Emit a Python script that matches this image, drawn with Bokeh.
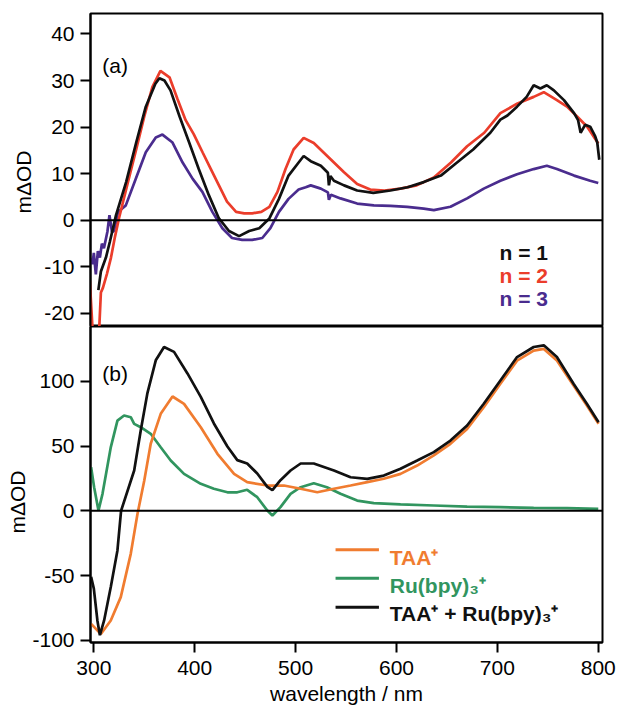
from bokeh.plotting import figure
from bokeh.layouts import column
from bokeh.models import Range1d, Label, Span, FixedTicker, Title
from bokeh.embed import file_html
from bokeh.resources import INLINE

FONT = "Liberation Sans"
FS = "21px"

# ---------------- panel (a) data: mΔOD vs wavelength (nm) ----------------
wl_n1 = [304.5, 307, 312, 316, 322, 332, 342, 351.5, 361, 365, 370, 376, 385, 394.5,
         404, 414, 424, 434, 444, 454, 464, 474, 483.5, 493, 503, 508, 515, 525, 532,
         533, 534.5, 538, 548, 561, 577, 594, 611, 627, 644, 660, 676, 693, 703, 710,
         719.5, 729, 736, 742.6, 749, 756, 766, 776, 780, 782.5, 787, 792, 797, 799, 801]
od_n1 = [-15, -11, -8, -4.5, 1.1, 8.2, 16.7, 24.4, 29.3, 30.5, 30, 27.9, 22.3, 16.7,
         11, 5.4, 0.4, -2.3, -3.4, -2.3, -1.7, 0.4, 4.6, 9.6, 12.4, 13.8, 12.7, 11.7, 10.2,
         7.5, 9.5, 8.5, 7.5, 6.4, 5.9, 6.4, 7.1, 8.2, 9.6, 12.4, 15.2, 18.8, 21.6, 22.5,
         24.4, 26.5, 29, 28.3, 29, 27.9, 25.8, 23, 21.5, 18.8, 20.5, 20.1, 18, 16.7, 13]

wl_n2 = [296, 298.5, 302, 305.5, 307, 309, 313, 317, 321, 325, 333, 342, 350, 358, 366,
         375, 383, 391, 399, 408, 416, 424, 432, 441, 449, 457, 466, 474, 482, 490, 498,
         508, 518, 528, 538, 548, 561, 574, 588, 604, 620, 637, 654, 670, 687, 703, 720,
         736, 746, 759, 769, 779, 789, 800]
od_n2 = [-13, -22.5, -30, -22.5, -15.5, -14.5, -11.5, -8, -3.5, 0.5, 7.5, 15.2, 22.3, 28.6, 32.1,
         30.7, 26, 21.5, 18.5, 14.5, 11, 7.5, 4, 1.8, 1.5, 1.5, 1.8, 2.9, 6.1, 11, 15.2,
         17.7, 16.6, 14.5, 12.4, 10.3, 7.8, 6.6, 6.4, 6.8, 7.5, 9.2, 12.4, 15.9, 18.8, 23, 25.1,
         26.5, 27.5, 25.8, 24.4, 22.3, 20.1, 16.5]

wl_n3 = [296, 298.7, 300, 302, 304, 306, 308, 310, 313.5, 315.5, 318, 320, 324, 331.7,
         341.6, 351.5, 361.4, 368, 378, 388, 398, 407.6, 417.5, 427.4, 437, 447, 457, 467,
         475, 483.5, 493, 503, 510, 515, 525, 532, 533, 535, 544.5, 561, 577.5, 594,
         610.6, 627, 637, 653.5, 670, 686.5, 703, 719.5, 736, 749, 759, 776, 792, 800]
od_n3 = [-8, -9.4, -7, -11.6, -6.6, -8, -5, -6, -2.4, 1.1, -2.5, -2.3, 1.8, 3.2,
         8.9, 14.6, 17.8, 18.4, 16.7, 12.4, 8.9, 6.1, 1.8, -1.7, -3.8, -4.2, -4.2, -3.8,
         -1.7, 1.8, 4.6, 6.6, 7.1, 7.5, 6.8, 6.0, 4.4, 5.5, 4.7, 3.6, 3.2, 3.1,
         2.9, 2.5, 2.2, 2.9, 4.7, 6.8, 8.5, 9.9, 11, 11.7, 11, 9.6, 8.5, 8]

# ---------------- panel (b) data ----------------
wl_taa = [297.3, 307, 316.8, 326.7, 336.6, 343.3, 350, 356.4, 366.3, 378, 389.4, 406,
          422.5, 439, 452, 472, 488.4, 505, 521.5, 538, 554.5, 571, 587.4, 604, 620.5,
          637, 653.5, 670, 686.5, 703, 719.5, 736, 746, 759, 775.5, 788.7, 800.3]
od_taa = [-87.2, -95, -84.6, -66.6, -33.2, -2.3, 23.4, 51.7, 74.8, 88.2, 82.5, 64.5,
          44, 28.5, 22.1, 19.5, 19.5, 17, 14.3, 17, 19.5, 22.1, 24.7, 28.5, 34.9,
          42.7, 51.7, 63.2, 79.9, 98, 115.9, 123.6, 124.9, 115.9, 96.6, 81.2, 67.1]

wl_ru = [297.3, 300.3, 304.6, 308.6, 316.8, 323.4, 330, 336.6, 340, 346.5, 356.4, 366.3,
         376.2, 389.4, 406, 419, 432.4, 442.2, 452, 462, 472, 477, 485, 495, 505, 518,
         531, 544.5, 561, 577.5, 604, 637, 670, 703, 736, 769, 800]
od_ru = [33.6, 18.2, 0.2, 13.1, 49, 69.6, 73.5, 72.2, 67.1, 64.5, 59.4, 49,
         38.8, 28.5, 20.8, 17, 14.3, 14.3, 16.2, 10.5, 0.2, -3.6, 2.8, 13.1, 18.2, 21.3,
         18.2, 13.1, 7.9, 5.9, 4.9, 4.1, 3.3, 2.8, 2.3, 2, 1.5]

wl_sum = [297.3, 300, 303.6, 306, 310.2, 316.8, 323.4, 327, 340, 346.5, 353, 361.4, 369.6,
          379.5, 392.8, 406, 419, 432.4, 442.2, 452, 462, 472, 477, 485, 495, 505, 518,
          538, 554.5, 571, 587.4, 604, 620.5, 637, 653.5, 670, 686.5, 703, 719.5, 736,
          746, 759, 775.5, 788.7, 800.3]
od_sum = [-51, -60, -85, -96, -84.6, -58.8, -30.6, 0, 31.1, 62, 90.4, 116.1, 126.4,
          122.6, 106, 87.9, 67.4, 49.6, 39.1, 36.5, 28.8, 18.5, 15.9, 23.6, 31.1, 36.5, 36.5,
          31.1, 25.9, 24.6, 27.2, 32.4, 38.8, 45.3, 54.2, 65.8, 82.6, 100.6, 118.6, 126.4,
          127.7, 118.6, 98.1, 82.6, 68.4]

x_ticks = [300, 400, 500, 600, 700, 800]
ya_ticks = [-20, -10, 0, 10, 20, 30, 40]
yb_ticks = [-100, -50, 0, 50, 100]

C_N1, C_N2, C_N3 = "#111111", "#EB3D2B", "#4A2C8E"
C_TAA, C_RU, C_SUM = "#F07C30", "#31955F", "#111111"


def style(p, yticks):
    p.grid.visible = False
    p.background_fill_color = "white"
    p.border_fill_color = "white"
    p.outline_line_color = "black"
    p.outline_line_width = 2
    p.outline_line_alpha = 1.0
    ax = p.yaxis[0]
    ax.ticker = FixedTicker(ticks=yticks, minor_ticks=[])
    ax.major_label_overrides = {t: str(t) for t in yticks}
    ax.major_tick_out = 10
    ax.major_tick_in = 0
    ax.minor_tick_out = 0
    ax.minor_tick_in = 0
    ax.major_tick_line_width = 2
    ax.axis_line_width = 2
    ax.major_label_text_font = FONT
    ax.major_label_text_font_size = FS
    ax.major_label_text_color = "black"
    ax.major_label_standoff = 6
    p.add_layout(Span(location=0, dimension="width", line_color="black", line_width=2))


def ylabel(p, offset, standoff):
    # y-axis title "mΔOD" placed as a left-side title so it may sit outside the frame
    t = Title(text="mΔOD", align="left", offset=offset, standoff=standoff,
              text_font=FONT, text_font_size=FS, text_font_style="normal",
              text_color="black")
    p.add_layout(t, "left")


xr = Range1d(296.7, 804.2)

p1 = figure(width=619, height=326, x_range=xr, y_range=Range1d(-22.8, 44.4),
            output_backend="svg", toolbar_location=None, x_axis_location=None,
            min_border_left=90, min_border_right=17, min_border_top=13, min_border_bottom=0)
style(p1, ya_ticks)
p1.line(wl_n3, od_n3, line_color=C_N3, line_width=2.7)
p1.line(wl_n2, od_n2, line_color=C_N2, line_width=2.7)
p1.line(wl_n1, od_n1, line_color=C_N1, line_width=2.7)
ylabel(p1, 113, 13)
p1.add_layout(Label(x=308.3, y=33.3, text="(a)", text_font=FONT, text_font_size=FS,
                    text_color="black", text_baseline="alphabetic"))
for txt, col, yy in [("n = 1", C_N1, -6.9), ("n = 2", C_N2, -11.9), ("n = 3", C_N3, -16.8)]:
    p1.add_layout(Label(x=702.2, y=yy, text=txt, text_font=FONT, text_font_size=FS,
                        text_font_style="bold", text_color=col, text_baseline="alphabetic"))

p2 = figure(width=619, height=389, x_range=xr, y_range=Range1d(-101.6, 142.2),
            output_backend="svg", toolbar_location=None,
            min_border_left=90, min_border_right=17, min_border_top=0, min_border_bottom=73)
style(p2, yb_ticks)
xa = p2.xaxis[0]
xa.ticker = FixedTicker(ticks=x_ticks, minor_ticks=[])
xa.major_tick_out = 10
xa.major_tick_in = 0
xa.minor_tick_out = 0
xa.minor_tick_in = 0
xa.major_tick_line_width = 2
xa.axis_line_width = 2
xa.major_label_text_font = FONT
xa.major_label_text_font_size = FS
xa.major_label_text_color = "black"
xa.major_label_standoff = 8
xa.axis_label = "wavelength / nm"
xa.axis_label_text_font = FONT
xa.axis_label_text_font_size = FS
xa.axis_label_text_font_style = "normal"
xa.axis_label_text_color = "black"
xa.axis_label_standoff = 4

p2.line(wl_ru, od_ru, line_color=C_RU, line_width=2.7)
p2.line(wl_taa, od_taa, line_color=C_TAA, line_width=2.7)
p2.line(wl_sum, od_sum, line_color=C_SUM, line_width=2.7)
ylabel(p2, 109, 2)
p2.add_layout(Label(x=308.3, y=105.7, text="(b)", text_font=FONT, text_font_size=FS,
                    text_color="black", text_baseline="alphabetic"))

# legend of panel (b)
LEG_X0, LEG_X1, LEG_TX = 539.6, 582.6, 593.4
legend_rows = [("TAA⁺", C_TAA, -30.1, -35.8),
               ("Ru(bpy)₃⁺", C_RU, -52.0, -57.6),
               ("TAA⁺ + Ru(bpy)₃⁺", C_SUM, -74.4, -79.4)]
for txt, col, yl, yt in legend_rows:
    p2.segment(x0=[LEG_X0], y0=[yl], x1=[LEG_X1], y1=[yl], line_color=col, line_width=3)
    p2.add_layout(Label(x=LEG_TX, y=yt, text=txt, text_font=FONT, text_font_size=FS,
                        text_font_style="bold", text_color=col, text_baseline="alphabetic"))

layout = column(p1, p2, spacing=0)
open("out.html", "w").write(file_html(layout, INLINE))
